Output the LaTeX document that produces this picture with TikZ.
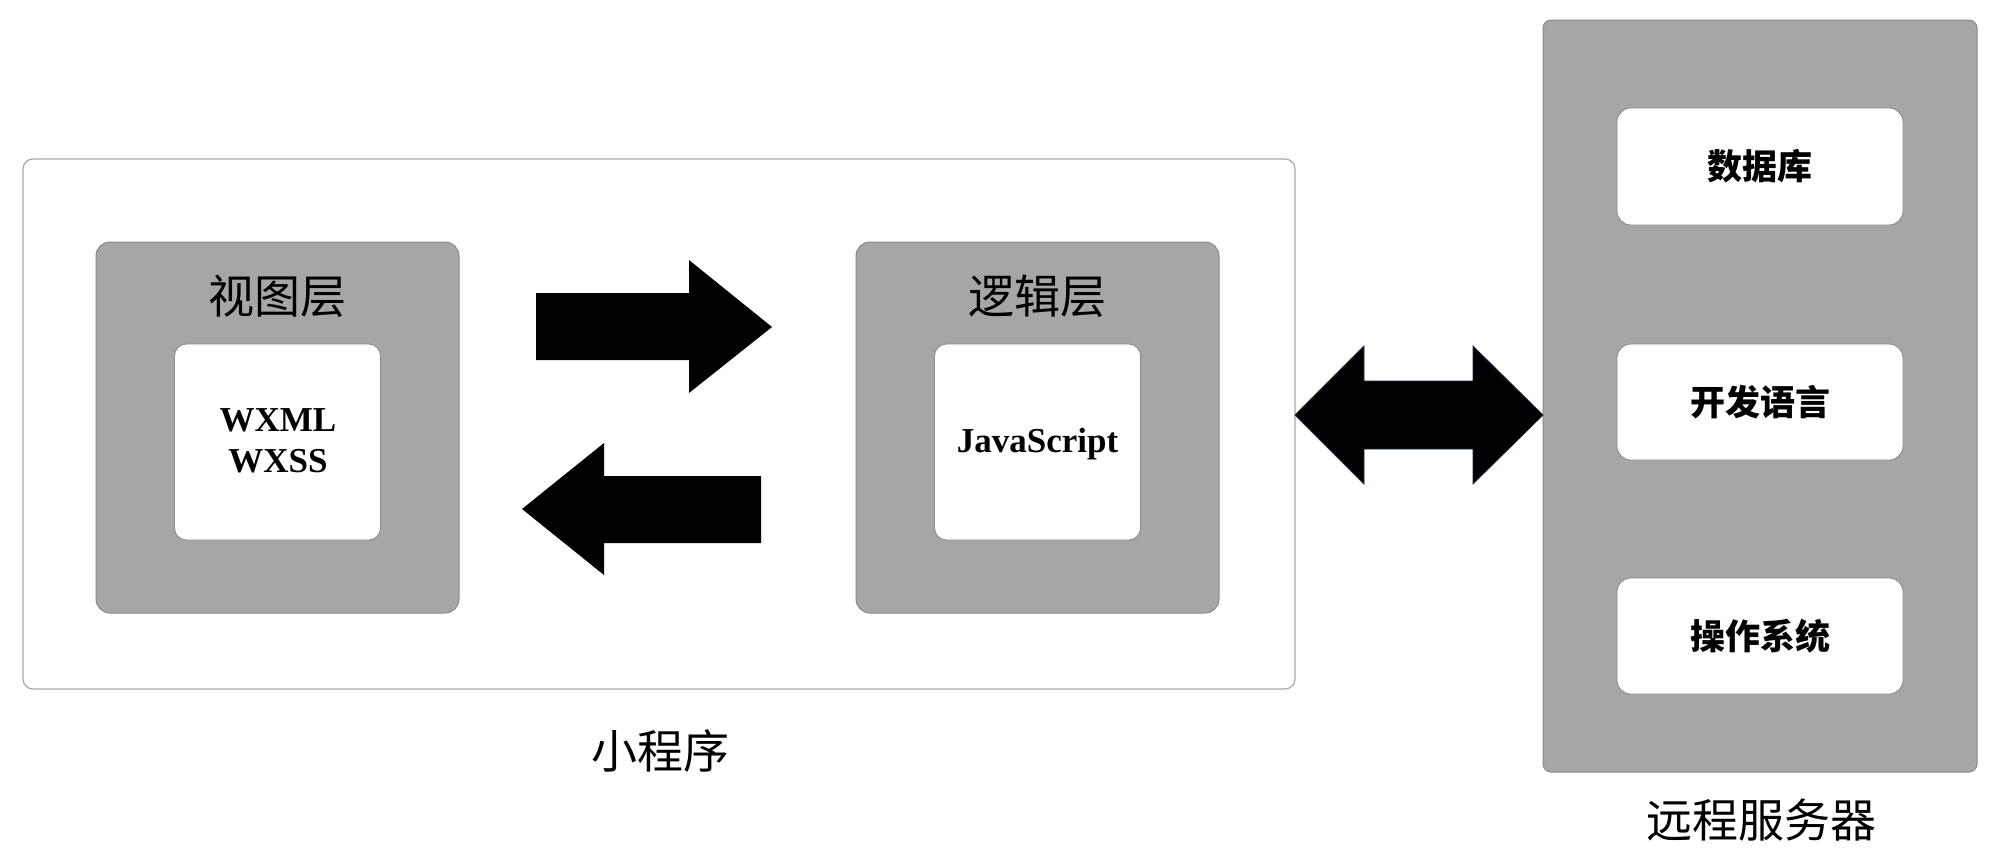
\documentclass[tikz,border=0pt]{standalone}
\usepackage{fontspec}
\setmainfont{Liberation Serif}
\newfontfamily\cjk{Noto Sans CJK SC}
\definecolor{boxgray}{HTML}{A6A6A6}
\definecolor{edgegray}{HTML}{8A8A8A}
\definecolor{frame}{HTML}{A8A8A8}
\definecolor{navy}{HTML}{1F2A44}
\begin{document}
\begin{tikzpicture}[x=1pt,y=-1pt,
  outerbox/.style={draw=frame, line width=1.2pt, fill=white, rounded corners=10pt, inner sep=0pt, outer sep=0pt},
  graybox/.style={draw=edgegray, line width=1pt, fill=boxgray, rounded corners=14pt, inner sep=0pt, outer sep=0pt},
  whitebox/.style={draw=edgegray, line width=0.8pt, fill=white, rounded corners=12pt, inner sep=0pt, outer sep=0pt},
  title/.style={font=\cjk\fontsize{46}{50}\selectfont, inner sep=0pt},
  code/.style={font=\bfseries\fontsize{35}{41}\selectfont, align=center, inner sep=0pt},
  srvlabel/.style={font=\cjk\bfseries\fontsize{35}{40}\selectfont, inner sep=0pt},
  blockarrow/.style={fill=black}
]
\useasboundingbox (0,0) rectangle (2000,863);
\fill[white] (0,0) rectangle (2000,863);

% mini program frame
\node[outerbox, minimum width=1272pt, minimum height=530pt] (prog) at (659,424) {};
\node[title] (progt) at (660,751) {小程序};

% view layer
\node[graybox, minimum width=363pt, minimum height=371pt] (view) at (277.5,427.5) {};
\node[title] (viewt) at (277,296) {视图层};
\node[whitebox, minimum width=206pt, minimum height=196pt] (viewin) at (277.5,442) {};
\node[code] (viewc) at (278,441) {WXML\\WXSS};

% logic layer
\node[graybox, minimum width=363pt, minimum height=371pt] (logic) at (1037.5,427.5) {};
\node[title] (logict) at (1037,296) {逻辑层};
\node[whitebox, minimum width=206pt, minimum height=196pt] (logicin) at (1037.5,442) {};
\node[code, anchor=base] (logicc) at (1037.5,452) {JavaScript};

% block arrows between layers
\fill[blockarrow] (536,293) -- (689,293) -- (689,260) -- (772,327) -- (689,393) -- (689,360) -- (536,360) -- cycle;
\fill[blockarrow] (761,476) -- (604,476) -- (604,443) -- (522,509) -- (604,575) -- (604,543) -- (761,543) -- cycle;

% server
\node[graybox, rounded corners=8pt, minimum width=434pt, minimum height=752pt] (server) at (1760,396) {};
\node[title] (servert) at (1761,820) {远程服务器};
\node[whitebox, rounded corners=14pt, minimum width=286pt, minimum height=117pt] (db) at (1760,166.5) {};
\node[srvlabel] (dbt) at (1760,166) {数据库};
\node[whitebox, rounded corners=14pt, minimum width=286pt, minimum height=116pt] (lang) at (1760,402) {};
\node[srvlabel] (langt) at (1760,402) {开发语言};
\node[whitebox, rounded corners=14pt, minimum width=286pt, minimum height=116pt] (os) at (1760,636) {};
\node[srvlabel] (ost) at (1760,636) {操作系统};

% double arrow between mini program and server
\filldraw[blockarrow, draw=navy, line width=0.8pt]
  (prog.east |- 0,415) -- (1364,346) -- (1364,381) -- (1473,381) -- (1473,346)
  -- (server.west |- 0,415) -- (1473,484) -- (1473,449) -- (1364,449) -- (1364,484) -- cycle;
\end{tikzpicture}
\end{document}
